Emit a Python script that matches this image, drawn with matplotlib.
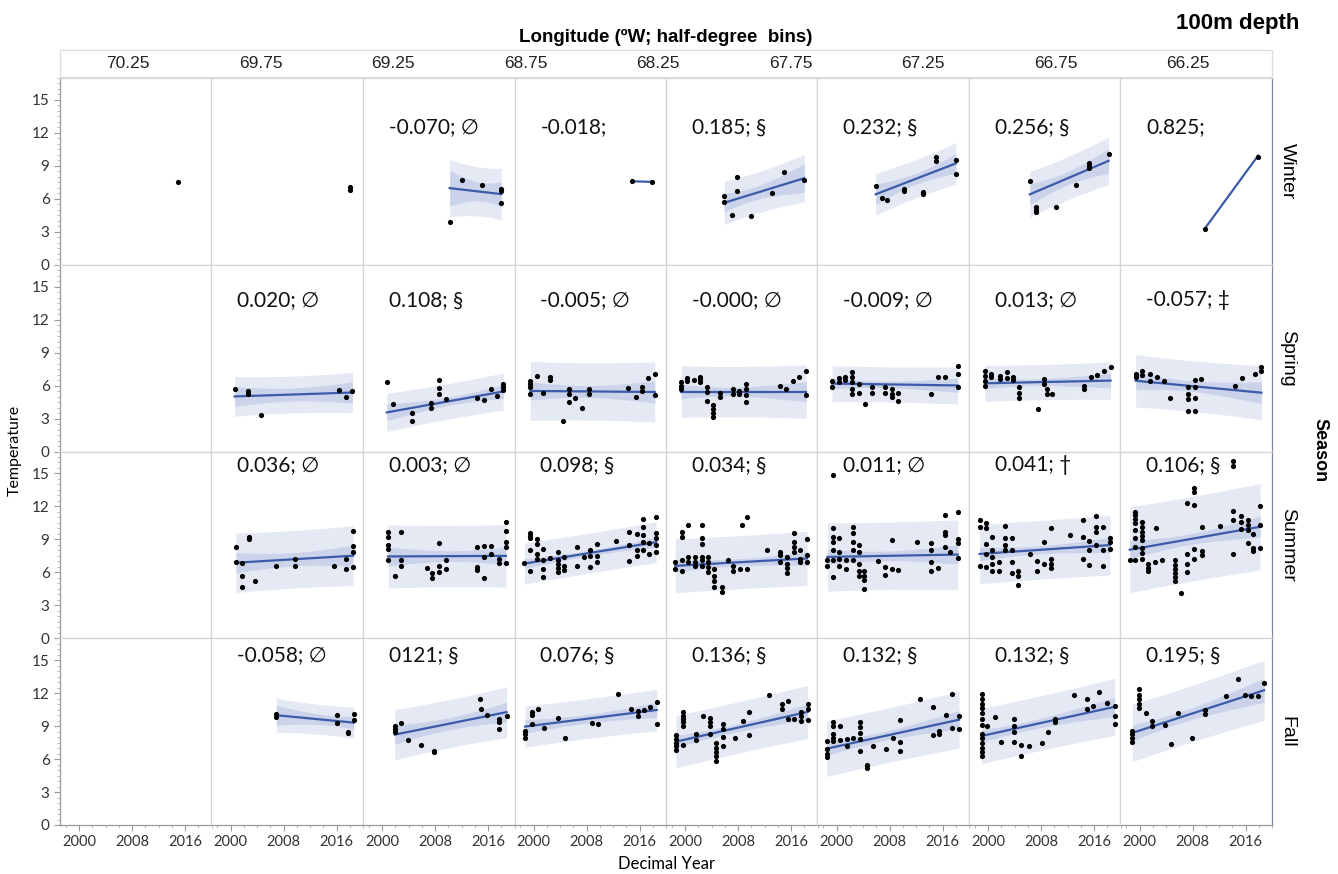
import numpy as np
import matplotlib
matplotlib.use('Agg')
import matplotlib.pyplot as plt
from matplotlib.ticker import MultipleLocator
from matplotlib.patches import Rectangle

plt.rcParams.update({'font.family': ['Lato', 'DejaVu Sans'], 'font.size': 11})

seasons = ['Winter', 'Spring', 'Summer', 'Fall']
lon_bins = ['70.25', '69.75', '69.25', '68.75', '68.25', '67.75', '67.25', '66.75', '66.25']

# trend labels (slope °C/yr; significance mark) per season, west -> east
winter_labels = ['', '', '-0.070; ∅', '-0.018;', '0.185; §', '0.232; §', '0.256; §', '0.825;']
spring_labels = ['', '0.020; ∅', '0.108; §', '-0.005; ∅', '-0.000; ∅', '-0.009; ∅', '0.013; ∅', '-0.057; ‡']
summer_labels = ['', '0.036; ∅', '0.003; ∅', '0.098; §', '0.034; §', '0.011; ∅', '0.041; †', '0.106; §']
fall_labels = ['', '-0.058; ∅', '0121; §', '0.076; §', '0.136; §', '0.132; §', '0.132; §', '0.195; §']

nan = np.nan
winter_slope = [nan, nan, -0.070, -0.018, 0.185, 0.232, 0.256, 0.825]
spring_slope = [nan, 0.020, 0.108, -0.005, -0.000, -0.009, 0.013, -0.057]
summer_slope = [nan, 0.036, 0.003, 0.098, 0.034, 0.011, 0.041, 0.106]
fall_slope = [nan, -0.058, 0.121, 0.076, 0.136, 0.132, 0.132, 0.195]

# fitted temperature at 2012.0
winter_level = [nan, nan, 6.85, 7.65, 6.77, 7.83, 7.87, 5.07]
spring_level = [nan, 5.24, 4.78, 5.45, 5.45, 6.07, 6.37, 5.72]
summer_level = [nan, 7.28, 7.48, 8.11, 7.05, 7.55, 8.22, 9.49]
fall_level = [nan, 9.70, 9.45, 9.97, 9.41, 8.73, 9.82, 10.94]

# residual standard deviation of each fit
winter_sd = [nan, nan, 1.05, nan, 0.9, 0.85, 0.95, nan]
spring_sd = [nan, 0.8, 0.8, 1.3, 1.15, 0.8, 0.8, 1.15]
summer_sd = [nan, 1.3, 1.4, 0.92, 1.22, 1.55, 1.35, 1.95]
fall_sd = [nan, 0.65, 1.08, 0.9, 1.18, 1.25, 1.25, 1.28]

# observations: (decimal year, [temperatures at that year])
winter_obs = [
    [(2015.0, [7.5])],
    [(2018.0, [6.85, 7.05])],
    [(2010.2, [3.9]), (2012.1, [7.7]), (2015.1, [7.3]), (2018.0, [6.9, 6.7, 5.6])],
    [(2014.9, [7.6]), (2017.9, [7.55])],
    [(2005.9, [5.7, 6.3]), (2007.1, [4.5]), (2007.8, [6.7, 8.0]), (2010.0, [4.4]), (2013.1, [6.5]),
     (2014.9, [8.4]), (2018.0, [7.7])],
    [(2005.9, [7.2]), (2006.9, [6.1]), (2007.6, [5.85]), (2010.1, [6.9, 6.7]), (2013.1, [6.65, 6.4]),
     (2015.0, [9.8, 9.4]), (2018.0, [9.5, 8.3])],
    [(2006.3, [7.6]), (2007.3, [5.3, 5.0, 4.8]), (2010.3, [5.25]), (2013.3, [7.3]),
     (2015.2, [9.3, 9.0, 8.8]), (2018.2, [10.1])],
    [(2009.8, [3.25]), (2017.9, [9.8])],
]

spring_obs = [
    [],
    [(2000.6, [5.7]), (2002.6, [5.5, 5.2]), (2004.6, [3.3]), (2016.4, [5.6]), (2017.4, [5.0]), (2018.4, [5.5])],
    [(2000.7, [6.3]), (2001.7, [4.35]), (2004.5, [3.5, 2.8]), (2007.4, [4.0, 4.4]), (2008.6, [6.5, 5.8, 5.2]),
     (2009.6, [4.75]), (2014.4, [4.9]), (2015.4, [4.65]), (2016.4, [5.65]), (2017.4, [5.05]),
     (2018.3, [6.1, 5.9, 5.6])],
    [(1999.5, [6.45, 6.1, 5.9, 5.25]), (2000.5, [6.9]), (2001.4, [5.3]), (2002.4, [6.8, 6.5]), (2004.4, [2.8]),
     (2005.3, [5.65, 5.25, 4.55]), (2006.3, [4.85]), (2007.3, [4.0]), (2008.4, [5.65, 5.25]), (2014.3, [5.75]),
     (2015.4, [4.95]), (2016.3, [5.85, 5.5]), (2017.3, [6.7]), (2018.3, [7.05, 5.15])],
    [(1999.4, [6.3, 6.0, 5.7]), (2000.3, [6.7, 6.4]), (2001.3, [6.5]), (2002.3, [6.8, 6.6, 6.3]),
     (2003.3, [5.9, 5.45, 4.6]), (2004.2, [4.25, 3.85, 3.5, 3.15]), (2005.3, [5.35, 4.95]), (2007.2, [5.65, 5.2]),
     (2008.2, [5.5, 5.2]), (2009.2, [6.1, 5.65, 5.15, 4.55]), (2014.3, [6.0]), (2015.3, [5.65]), (2016.3, [6.45]),
     (2017.2, [6.75]), (2018.3, [7.3, 5.15])],
    [(1999.3, [6.4, 5.9]), (2000.3, [6.7, 6.3]), (2001.3, [6.8, 6.5]), (2002.3, [7.2, 6.75, 6.3, 5.65, 5.25]),
     (2003.3, [6.15, 5.35]), (2004.3, [4.3]), (2005.3, [5.85, 5.35]), (2007.3, [5.85, 5.35]),
     (2008.3, [5.65, 5.2, 4.95]), (2009.2, [5.35, 4.6]), (2014.3, [5.25]), (2015.3, [6.8]), (2016.3, [6.8]),
     (2018.3, [7.75, 7.05, 5.9])],
    [(1999.5, [7.35, 6.9, 6.45, 6.0]), (2000.5, [7.1, 6.8]), (2001.8, [6.9, 6.6]), (2002.8, [7.2, 6.7]),
     (2003.7, [6.8, 6.5]), (2004.6, [5.85, 5.35, 4.9]), (2007.5, [3.85]), (2008.4, [6.6, 6.1]),
     (2008.9, [5.65, 5.25]), (2009.6, [5.2]), (2014.5, [6.0, 5.65]), (2015.5, [6.75]), (2016.5, [7.0]),
     (2017.5, [7.35]), (2018.5, [7.65])],
    [(1999.4, [7.05, 6.75]), (2000.4, [7.35, 7.0]), (2001.6, [7.05, 6.45]), (2002.6, [6.75]), (2003.6, [6.4]),
     (2004.6, [4.9]), (2007.3, [5.85, 5.2, 4.75, 3.7]), (2008.3, [6.5, 5.9, 4.9, 3.7]), (2009.3, [6.6]),
     (2014.4, [6.0]), (2015.4, [6.7]), (2017.4, [7.05]), (2018.4, [7.7, 7.35])],
]

summer_obs = [
    [],
    [(2000.8, [8.3, 6.9]), (2001.7, [6.85, 5.7, 4.7]), (2002.8, [9.2, 9.0]), (2003.7, [5.2]), (2006.8, [6.55]),
     (2009.7, [7.2, 6.6]), (2015.6, [6.6]), (2017.5, [7.2, 6.3]), (2018.5, [9.8, 8.4, 7.85, 6.45])],
    [(2000.9, [9.7, 9.25, 8.45, 8.15, 7.1]), (2001.9, [5.7]), (2002.8, [9.7, 7.1, 6.6]), (2006.7, [6.4]),
     (2007.6, [5.9, 5.5]), (2008.6, [8.7, 6.6, 6.0]), (2009.6, [7.1, 6.3]), (2014.4, [8.3, 6.45, 6.2]),
     (2015.4, [8.4, 7.4, 5.5]), (2016.4, [8.4, 7.7]), (2017.7, [7.2, 6.85]),
     (2018.7, [10.6, 9.8, 8.75, 8.35, 6.85])],
    [(1998.6, [6.85]), (1999.5, [9.55, 9.3, 9.1, 8.0, 6.1]), (2000.5, [9.0, 8.55, 7.7, 7.25]),
     (2001.4, [8.15, 7.15, 6.3, 5.55]), (2002.4, [7.3]), (2003.6, [7.85, 7.1, 6.8, 6.4, 6.0]),
     (2004.6, [7.4, 6.6, 6.2]), (2006.5, [8.35, 6.6]), (2007.6, [7.4]), (2008.5, [8.0, 7.5, 6.5]),
     (2009.5, [8.6, 7.5, 6.9]), (2012.4, [8.85]), (2014.4, [9.7, 8.45, 7.0]), (2015.6, [9.5, 8.0, 7.5]),
     (2016.5, [10.9, 10.15, 9.4, 8.75, 8.0]), (2017.5, [8.7, 7.7]), (2018.5, [11.05, 9.55, 9.1, 8.45, 7.85])],
    [(1998.5, [6.95, 6.3]), (1999.5, [9.7, 9.25, 7.1, 6.15]), (2000.5, [10.3, 7.4, 6.95]),
     (2001.5, [7.4, 6.95, 6.55]), (2002.5, [10.3, 9.1, 8.6, 7.4, 7.1, 6.6]), (2003.5, [7.4, 6.95, 6.45, 6.0]),
     (2004.4, [6.3, 5.7, 5.25, 4.7]), (2005.5, [4.65, 4.25]), (2006.4, [7.1]), (2007.3, [6.6, 6.1]),
     (2008.3, [6.3]), (2008.6, [10.3]), (2009.4, [11.05, 6.3]), (2012.4, [8.0]), (2014.4, [7.85, 7.55, 6.95]),
     (2015.4, [7.4, 6.8, 6.4, 5.95]), (2016.4, [9.6, 8.75, 8.3, 7.85]), (2017.4, [8.05, 7.25, 6.95]),
     (2018.4, [9.0, 7.55, 6.95])],
    [(1998.6, [7.1, 6.55]), (1999.4, [14.9, 10.0, 9.25, 8.75, 8.0, 7.1, 5.55]), (2000.4, [9.15, 7.85, 7.25, 6.6]),
     (2001.4, [7.1, 6.3]), (2002.4, [10.15, 9.55, 8.75, 8.0, 7.1]), (2003.3, [8.45, 7.85, 6.8, 6.15, 5.7]),
     (2004.2, [6.15, 5.7, 5.3, 4.5]), (2006.2, [7.0]), (2007.3, [6.45, 5.8]), (2008.4, [8.9, 6.3]),
     (2009.3, [6.25]), (2012.2, [8.75]), (2014.3, [8.7, 8.0, 6.95, 6.1]), (2015.3, [6.4]),
     (2016.3, [11.2, 9.7, 9.4, 8.3]), (2017.2, [7.85]), (2018.3, [11.5, 9.0, 8.7, 7.35])],
    [(1998.7, [10.8, 10.1, 6.6]), (1999.6, [10.45, 10.0, 8.55, 7.65, 6.45]), (2000.6, [9.25, 8.0, 7.4, 6.8, 6.15]),
     (2001.6, [6.95, 6.15]), (2002.6, [10.2, 9.1, 8.45, 8.0]), (2003.6, [9.1, 8.0, 6.95, 5.95]),
     (2004.5, [6.15, 5.7, 4.85]), (2006.3, [7.7]), (2007.4, [7.0, 6.15]), (2008.5, [8.75, 6.8]),
     (2009.5, [10.0, 7.25, 6.8, 6.4]), (2012.4, [9.4]), (2014.3, [10.8, 9.25, 7.25]), (2015.3, [8.85, 8.0, 6.7]),
     (2016.3, [11.15, 10.15, 9.7, 8.45]), (2017.4, [10.15, 8.0, 6.6]), (2018.4, [9.1, 8.75, 8.15])],
    [(1998.5, [7.15]), (1999.3, [11.5, 11.2, 10.9, 10.45, 9.85, 9.1, 8.3, 7.1]),
     (2000.3, [10.6, 10.15, 9.7, 9.3, 8.9, 8.25, 7.75, 7.25]), (2001.2, [6.8, 6.4, 6.1]), (2002.3, [6.95]),
     (2002.5, [10.0]), (2003.3, [7.1]), (2005.3, [7.15, 6.7, 6.3, 5.9, 5.55, 5.2]), (2006.2, [4.15]),
     (2007.2, [12.3, 7.65, 6.8, 6.0]), (2008.2, [13.7, 13.3, 12.15, 8.1, 7.25]), (2009.4, [10.1, 7.95, 7.55]),
     (2012.2, [10.2]), (2014.1, [16.1, 15.7, 11.6, 10.8, 7.65]), (2015.3, [11.1, 10.6, 9.9]),
     (2016.3, [10.8, 10.3, 9.85, 8.7]), (2017.1, [9.5, 8.2, 7.9]), (2018.2, [12.0, 10.3, 8.25])],
]

fall_obs = [
    [],
    [(2006.9, [10.1, 9.8]), (2016.0, [10.0, 9.3]), (2017.7, [8.5, 8.35]), (2018.6, [10.1, 9.6])],
    [(2001.9, [9.0, 8.75, 8.5]), (2002.9, [9.3]), (2003.9, [7.75]), (2005.9, [7.25]), (2007.9, [6.75, 6.6]),
     (2014.8, [11.5]), (2015.0, [10.6]), (2015.9, [10.0]), (2017.7, [9.65, 9.35, 8.7]), (2018.8, [9.95])],
    [(1998.7, [8.6, 8.3, 7.95]), (1999.7, [10.3, 10.0, 9.2]), (2000.7, [10.6]), (2001.6, [8.8]), (2003.7, [9.7]),
     (2004.7, [7.95]), (2008.8, [9.3]), (2009.7, [9.2]), (2012.7, [11.95]), (2014.7, [10.6]),
     (2015.7, [10.4, 9.9]), (2016.7, [10.5]), (2017.6, [10.7]), (2018.6, [11.2, 9.2])],
    [(1998.6, [8.15, 7.8, 7.5, 7.15, 6.85]), (1999.6, [10.25, 9.95, 9.65, 9.35, 9.0, 7.25]), (2001.6, [8.3, 7.7]),
     (2002.7, [9.95]), (2003.7, [9.7, 9.35, 9.0, 8.3]), (2004.7, [7.45, 7.05, 6.65, 6.25, 5.85]),
     (2005.7, [9.2, 8.75, 8.0, 7.2]), (2007.6, [7.9]), (2008.7, [9.5]), (2009.6, [10.25, 8.15]),
     (2012.6, [11.85]), (2014.6, [11.05, 10.6]), (2015.6, [11.3, 9.65]), (2016.5, [9.65]),
     (2017.5, [10.25, 9.9, 9.5]), (2018.5, [11.05, 10.6, 9.6])],
    [(1998.5, [7.65, 6.9, 6.45, 6.15]), (1999.5, [9.4, 9.05, 8.3, 7.95, 7.65]), (2000.5, [9.0, 7.75]),
     (2001.5, [7.8, 7.15]), (2002.5, [7.95]), (2003.5, [9.35, 8.9, 8.35, 7.8, 6.75]), (2004.6, [5.5, 5.2]),
     (2005.5, [7.2]), (2007.5, [6.9]), (2008.5, [7.95]), (2009.5, [9.6, 7.6, 6.7]), (2012.6, [11.45]),
     (2014.5, [10.75, 8.15]), (2015.5, [8.6, 8.3]), (2016.5, [10.0]), (2017.5, [11.9, 8.8]),
     (2018.5, [9.95, 8.75])],
    [(1999.0, [11.95, 11.5, 11.05, 10.65, 10.2, 9.65, 9.1, 8.3, 7.9, 7.45, 7.05, 6.65, 6.3]), (1999.8, [9.0]),
     (2001.0, [9.8]), (2001.9, [7.55]), (2003.9, [9.65, 9.05, 8.5, 7.55]), (2005.0, [7.25, 6.3]),
     (2006.1, [7.2]), (2008.1, [7.5]), (2009.1, [8.5]), (2010.1, [9.65, 9.35]), (2013.0, [11.85]),
     (2015.0, [11.45, 10.6]), (2015.8, [10.8]), (2016.8, [12.1]), (2017.9, [11.15]),
     (2019.1, [10.8, 9.95, 9.2])],
    [(1998.9, [8.6, 8.3, 7.95, 7.55]), (1999.9, [12.4, 11.85, 11.5, 11.05, 10.65]), (2000.9, [10.2]),
     (2001.8, [9.5, 9.05]), (2003.8, [9.1]), (2004.8, [7.35]), (2005.8, [10.2]), (2007.9, [7.95]),
     (2009.9, [10.5, 10.1]), (2013.0, [11.75]), (2014.9, [13.3]), (2015.9, [11.85]), (2016.9, [11.75]),
     (2017.9, [11.75]), (2018.8, [12.9])],
]

obs = [winter_obs, spring_obs, summer_obs, fall_obs]
slopes = [winter_slope, spring_slope, summer_slope, fall_slope]
levels = [winter_level, spring_level, summer_level, fall_level]
sds = [winter_sd, spring_sd, summer_sd, fall_sd]
labels = [winter_labels, spring_labels, summer_labels, fall_labels]
label_y = [12.5, 13.8, 15.8, 15.5]

LINE = '#3b5ba8'
PRED = '#e5e9f4'
CONF = '#cad3ea'
EDGE = '#d4d4d4'

W, H = 1338, 874
fig, axes = plt.subplots(4, 8, figsize=(W / 100, H / 100), dpi=100, sharex=True, sharey=True)
fig.subplots_adjust(left=60 / W, right=1272 / W, top=1 - 78 / H, bottom=1 - 825 / H, wspace=0, hspace=0)


def trend(groups, slope, level, sd):
    xs = np.array([x for x, ts in groups for _ in ts])
    xx = np.linspace(xs.min(), xs.max(), 80)
    yy = level + slope * (xx - 2012.0)
    n = len(xs)
    if n < 3 or np.isnan(sd):
        return xx, yy, None, None
    xbar = xs.mean()
    sxx = ((xs - xbar) ** 2).sum()
    conf = 1.96 * sd * np.sqrt(1 / n + (xx - xbar) ** 2 / sxx)
    pred = 1.96 * sd * np.sqrt(1 + 1 / n + (xx - xbar) ** 2 / sxx)
    return xx, yy, conf, pred


for r in range(4):
    for c in range(8):
        ax = axes[r, c]
        groups = obs[r][c]
        if groups and not np.isnan(slopes[r][c]):
            xx, yy, conf, pred = trend(groups, slopes[r][c], levels[r][c], sds[r][c])
            if pred is not None:
                ax.fill_between(xx, yy - pred, yy + pred, color=PRED, lw=0, zorder=1)
                ax.fill_between(xx, yy - conf, yy + conf, color=CONF, lw=0, zorder=2)
            ax.plot(xx, yy, color=LINE, lw=1.6, zorder=3)
        if groups:
            xs = [x for x, ts in groups for _ in ts]
            ys = [t for _, ts in groups for t in ts]
            ax.scatter(xs, ys, s=14, color='black', lw=0, zorder=4)
        if labels[r][c]:
            ax.text(2001.0, label_y[r], labels[r][c], fontsize=15, ha='left', va='center',
                    color='#111111', zorder=5)
        for side in ['top', 'bottom', 'left', 'right']:
            ax.spines[side].set_color(EDGE)
            ax.spines[side].set_linewidth(0.9)
        if c == 7:
            ax.spines['right'].set_color('#7d879a')
        ax.tick_params(which='both', length=0, labelsize=11, colors='#333333')
        if c == 0:
            ax.spines['left'].set_color('#9a9a9a')
            ax.tick_params(axis='y', which='major', length=4, color='#9a9a9a', direction='out')
            ax.tick_params(axis='y', which='minor', length=2, color='#b0b0b0', direction='out')
        if r == 3:
            ax.spines['bottom'].set_color('#9a9a9a')
            ax.tick_params(axis='x', which='major', length=4, color='#9a9a9a', direction='out', labelsize=10.5)
            ax.tick_params(axis='x', which='minor', length=2, color='#b0b0b0', direction='out')

ax0 = axes[0, 0]
ax0.set_xlim(1997.1, 2020.0)
ax0.set_ylim(0, 17)
ax0.set_yticks([0, 3, 6, 9, 12, 15])
ax0.yaxis.set_minor_locator(MultipleLocator(0.5))
ax0.set_xticks([2000, 2008, 2016])
ax0.xaxis.set_minor_locator(MultipleLocator(2))

# longitude header strip
fig.patches.append(Rectangle((60 / W, 1 - 77 / H), 1212 / W, 27 / H, transform=fig.transFigure,
                             fill=False, edgecolor='#dedede', lw=1.0))
for i, lab in enumerate(lon_bins):
    fig.text((128 + i * 132.5) / W, 1 - 63 / H, lab, ha='center', va='center', fontsize=12.5,
             family='Liberation Sans', color='#222222')
fig.text(666 / W, 1 - 37 / H, 'Longitude (ºW; half-degree  bins)', ha='center', va='center',
         fontsize=13.5, fontweight='bold', family='Liberation Sans')
fig.text(1238 / W, 1 - 23 / H, '100m depth', ha='center', va='center', fontsize=16,
         fontweight='bold', family='Liberation Sans')

# season strip on the right
for r, name in enumerate(seasons):
    ax = axes[r, 7]
    ax.text(1.1, 0.5, name, transform=ax.transAxes, rotation=270, ha='center', va='center',
            fontsize=14, family='Liberation Sans')
fig.text(1320 / W, 1 - 450 / H, 'Season', rotation=270, ha='center', va='center', fontsize=13,
         fontweight='bold', family='Liberation Sans')

fig.text(15 / W, 1 - 450 / H, 'Temperature', rotation=90, ha='center', va='center', fontsize=11.5)
fig.text(666 / W, 1 - 864 / H, 'Decimal Year', ha='center', va='center', fontsize=12)

fig.savefig('out.png', dpi=100, facecolor='white')
